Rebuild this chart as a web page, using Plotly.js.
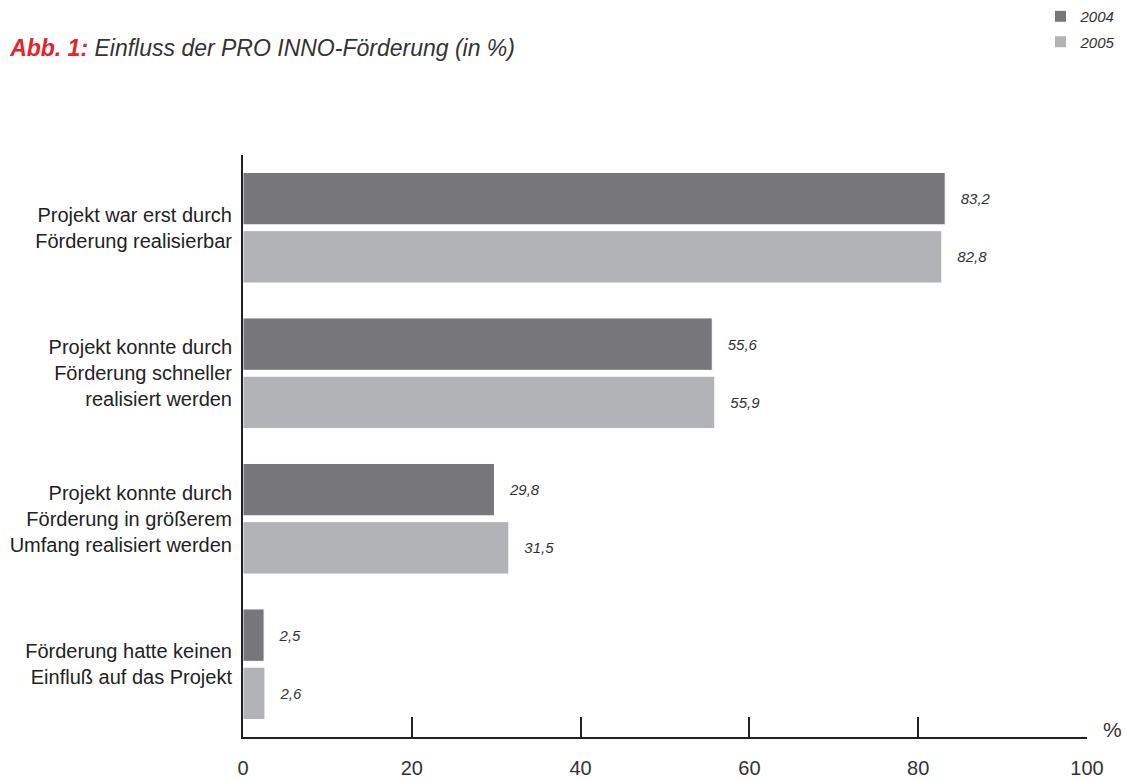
<!DOCTYPE html>
<html>
<head>
<meta charset="utf-8">
<script src="https://cdn.plot.ly/plotly-3.0.1.min.js"></script>
<style>html,body{margin:0;padding:0;background:#fff;}#chart{width:1126px;height:779px;}</style>
</head>
<body>
<div id="chart"></div>
<script>
const categories = [
  "Projekt war erst durch<br>Förderung realisierbar",
  "Projekt konnte durch<br>Förderung schneller<br>realisiert werden",
  "Projekt konnte durch<br>Förderung in größerem<br>Umfang realisiert werden",
  "Förderung hatte keinen<br>Einfluß auf das Projekt"
];
const values2004 = [83.2, 55.6, 29.8, 2.5];
const values2005 = [82.8, 55.9, 31.5, 2.6];
const seriesNames = ["2004", "2005"];
const tickValues = [0, 20, 40, 60, 80, 100];

const labelFont = {family: "Liberation Sans, Arial, sans-serif", size: 15, color: "#333333", style: "italic"};

function barTrace(name, vals, color) {
  return {
    type: "bar", orientation: "h", name: name, legendgroup: name,
    y: categories, x: vals,
    marker: {color: color, line: {color: "#ffffff", width: 1}},
    texttemplate: "\u00a0\u00a0\u00a0%{x:.1f}",
    textposition: "outside",
    textfont: labelFont,
    cliponaxis: false,
    hoverinfo: "skip"
  };
}

const data = [
  barTrace(seriesNames[0], values2004, "#77777b"),
  barTrace(seriesNames[1], values2005, "#b2b3b6")
];

const layout = {
  width: 1126, height: 779,
  margin: {l: 243, r: 39, t: 155, b: 42, autoexpand: false},
  paper_bgcolor: "#ffffff", plot_bgcolor: "#ffffff",
  separators: ",.",
  barmode: "group", bargap: 0.2, bargroupgap: 0.1,
  font: {family: "Liberation Sans, Arial, sans-serif", color: "#222222"},
  title: {
    text: "<b style='color:#e3242b'>Abb. 1:</b> Einfluss der PRO INNO-Förderung (in %)",
    font: {size: 23, color: "#333333", style: "italic", family: "Liberation Sans, Arial, sans-serif"},
    xref: "container", x: 0.009, xanchor: "left",
    yref: "container", y: 0.938, yanchor: "middle"
  },
  showlegend: true,
  legend: {
    xref: "container", yref: "container",
    x: 0.996, xanchor: "right", y: 1, yanchor: "top",
    font: {size: 15, color: "#333333", style: "italic"},
    bgcolor: "rgba(0,0,0,0)", tracegroupgap: 3, itemclick: false
  },
  xaxis: {
    range: [0, 100], tickvals: tickValues, ticktext: tickValues.map(String),
    showgrid: false, zeroline: false,
    showline: true, linecolor: "#222222", linewidth: 2,
    ticks: "inside", ticklen: 20, tickwidth: 2, tickcolor: "#222222",
    ticklabelstandoff: 12,
    tickfont: {size: 20, color: "#333333", family: "Liberation Sans, Arial, sans-serif"},
    fixedrange: true
  },
  yaxis: {
    autorange: "reversed", type: "category",
    showgrid: false, zeroline: false,
    showline: true, linecolor: "#222222", linewidth: 2,
    ticks: "", ticklabelstandoff: 5,
    tickfont: {size: 20, color: "#222222", family: "Liberation Sans, Arial, sans-serif"},
    fixedrange: true
  },
  annotations: [{
    text: "%", xref: "paper", yref: "paper", x: 1, y: 0,
    xanchor: "left", yanchor: "bottom", xshift: 14, yshift: -6,
    showarrow: false,
    font: {size: 21, color: "#333333", family: "Liberation Sans, Arial, sans-serif"}
  }]
};

Plotly.newPlot("chart", data, layout, {displayModeBar: false, staticPlot: true});
</script>
</body>
</html>
